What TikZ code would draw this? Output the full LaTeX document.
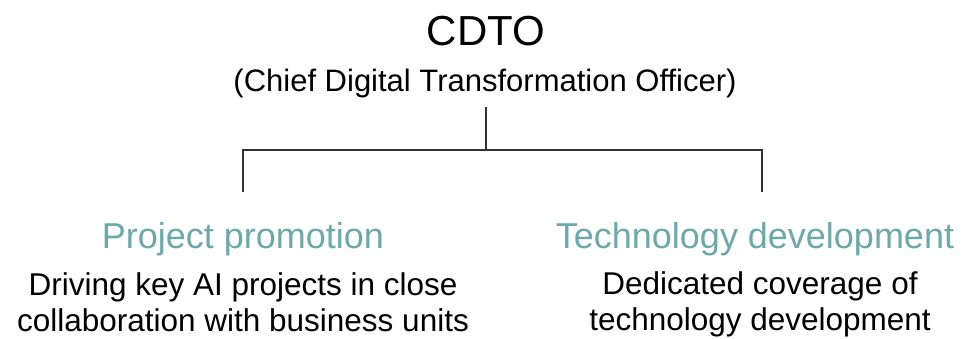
\documentclass[tikz,border=0pt]{standalone}
\usepackage{fontspec}
\setmainfont{Liberation Sans}
\setsansfont{Liberation Sans}
\usetikzlibrary{positioning,calc}
\definecolor{RoleTeal}{HTML}{6BAAA8}
\definecolor{LineGray}{HTML}{333333}

\begin{document}
\begin{tikzpicture}[
    x=1pt, y=-1pt,
    font=\sffamily,
    heading/.style={anchor=base, text=RoleTeal, inner sep=0pt, font=\sffamily\fontsize{36}{43}\selectfont},
    desc/.style={anchor=base, align=center, inner sep=0pt, font=\sffamily\fontsize{31.5}{36}\selectfont},
    branch/.style={draw=LineGray, line width=1.2pt}
]

  % Fundo / limites
  \useasboundingbox (0,0) rectangle (968,338);

  % =========================================================================
  % TOPO: CDTO
  % =========================================================================
  \node[anchor=base, inner sep=0pt, font=\sffamily\fontsize{42}{50}\selectfont] (cdto) at (486,45) {CDTO};
  \node[anchor=base, inner sep=0pt, font=\sffamily\fontsize{31}{37}\selectfont] (cdtosub) at (485,91) {(Chief Digital Transformation Officer)};

  % =========================================================================
  % LIGACOES
  % =========================================================================
  \coordinate (top) at (486,107);
  \coordinate (hub) at (486,150);
  \coordinate (lft) at (243,150);
  \coordinate (rgt) at (762,150);
  \coordinate (lend) at (243,192);
  \coordinate (rend) at (762,192);

  \draw[branch] (top) -- (hub);
  \draw[branch] (lend) -- (lft) -- (rgt) -- (rend);

  % =========================================================================
  % ESQUERDA: PROJECT PROMOTION
  % =========================================================================
  \node[heading] (proj) at (243,248) {Project promotion};
  \node[desc] (projdesc) at (243,331) {Driving key AI projects in close\\collaboration with business units};

  % =========================================================================
  % DIREITA: TECHNOLOGY DEVELOPMENT
  % =========================================================================
  \node[heading] (tech) at (755,248) {Technology development};
  \node[desc] (techdesc) at (760,330) {Dedicated coverage of\\technology development};

\end{tikzpicture}
\end{document}
